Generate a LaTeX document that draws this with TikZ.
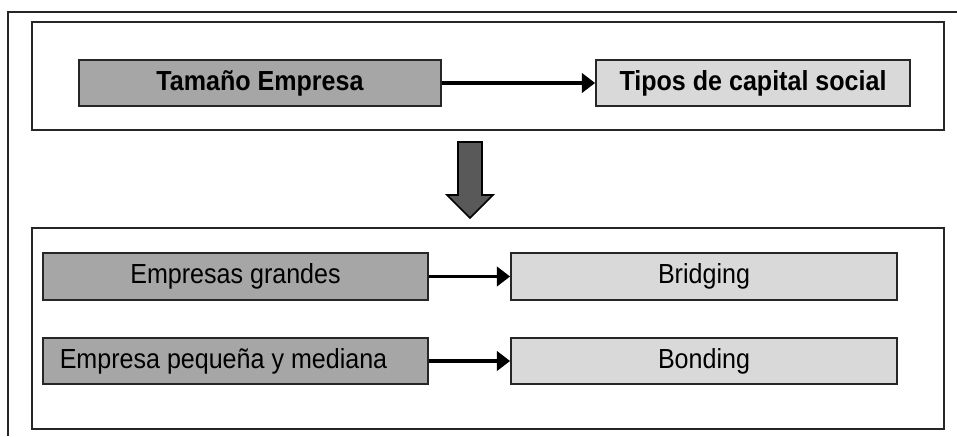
\documentclass[tikz,border=0pt]{standalone}
\usepackage{fontspec}
\setmainfont{Liberation Sans}
\usetikzlibrary{arrows.meta}
\definecolor{darkbox}{HTML}{A6A6A6}
\definecolor{lightbox}{HTML}{D9D9D9}
\definecolor{edge}{HTML}{262626}
\definecolor{bigarrow}{HTML}{595959}
% slightly taller lettering
\newcommand{\tallbox}[1]{\scalebox{1}[1.1]{#1}}
\begin{document}
\begin{tikzpicture}[x=0.75pt,y=-0.75pt,
  container/.style={draw=edge,line width=1.4pt,fill=white,minimum width=684pt,inner sep=0pt},
  darkstep/.style={draw=edge,line width=1.3pt,fill=darkbox,inner sep=0pt,
    font=\fontsize{18.8}{22}\selectfont},
  lightstep/.style={draw=edge,line width=1.3pt,fill=lightbox,inner sep=0pt,
    font=\fontsize{18.8}{22}\selectfont},
  link/.style={line width=2.5pt,-{Triangle[length=10pt,width=14.5pt]}},
]
\useasboundingbox (0,0) rectangle (957,436);

% open outer frame (top and left edges only)
\coordinate (fbl) at (8,436);
\coordinate (ftl) at (8,12);
\coordinate (ftr) at (957,12);
\draw[line width=1.1pt,draw=edge] (fbl) -- (ftl) -- (ftr);

% containers
\node[container,minimum height=81pt] (top) at (488,76) {};
\node[container,minimum height=150.75pt] (bottom) at (488,328.5) {};

% upper row
\node[darkstep,minimum width=271.5pt,minimum height=34.5pt] (tam) at (260,83)
  {\tallbox{\bfseries Tamaño Empresa}};
\node[lightstep,minimum width=235.5pt,minimum height=34.5pt] (tip) at (753,83)
  {\tallbox{\bfseries Tipos de capital social}};
\draw[link] (tam.east) -- (tip.west);

% block arrow between the containers
\draw[line width=1.3pt,draw=black,fill=bigarrow,line join=miter]
  (458,142) -- (482,142) -- (482,195) -- (493,195) -- (470,218)
  -- (447,195) -- (458,195) -- cycle;

% lower rows
\node[darkstep,minimum width=288.75pt,minimum height=35.25pt] (eg) at (235.5,276.5)
  {\tallbox{Empresas grandes}};
\node[lightstep,minimum width=289.5pt,minimum height=35.25pt] (br) at (704,276.5)
  {\tallbox{Bridging}};
\node[darkstep,minimum width=288.75pt,minimum height=34.5pt] (ep) at (235.5,361)
  {\hspace*{-18pt}\tallbox{Empresa pequeña y mediana}};
\node[lightstep,minimum width=289.5pt,minimum height=34.5pt] (bo) at (704,361)
  {\tallbox{Bonding}};
\draw[link] (eg.east) -- (br.west);
\draw[link] (ep.east) -- (bo.west);
\end{tikzpicture}
\end{document}
